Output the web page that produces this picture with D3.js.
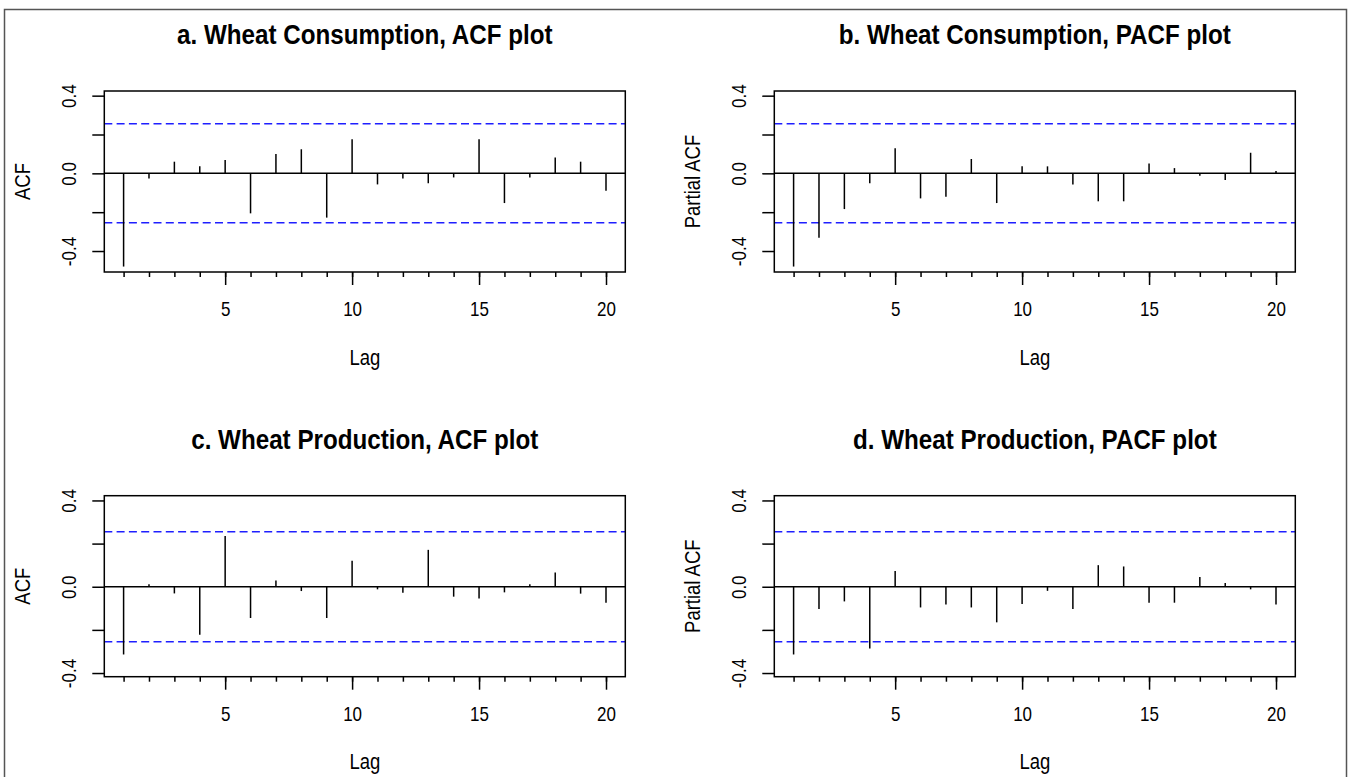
<!DOCTYPE html>
<html><head><meta charset="utf-8">
<script src="https://cdn.jsdelivr.net/npm/d3@7"></script>
<style>
body{margin:0;background:#fff;}
svg{display:block;}
text{font-family:"Liberation Sans",Arial,Helvetica,sans-serif;fill:#000;}
</style>
</head><body>
<svg id="chart" width="1351" height="777"></svg>
<script>
// ---- data ----
const lags = [1,2,3,4,5,6,7,8,9,10,11,12,13,14,15,16,17,18,19,20];
const consumptionACF  = [-0.480,-0.026,0.060,0.036,0.069,-0.206,0.100,0.124,-0.228,0.175,-0.057,-0.027,-0.051,-0.021,0.175,-0.153,-0.021,0.082,0.060,-0.089];
const consumptionPACF = [-0.480,-0.331,-0.184,-0.051,0.129,-0.129,-0.120,0.074,-0.153,0.036,0.036,-0.057,-0.144,-0.144,0.051,0.027,-0.012,-0.034,0.106,0.012];
const productionACF   = [-0.314,0.011,-0.031,-0.222,0.235,-0.145,0.029,-0.020,-0.145,0.120,-0.012,-0.028,0.171,-0.046,-0.054,-0.026,0.011,0.066,-0.032,-0.074];
const productionPACF  = [-0.314,-0.103,-0.068,-0.286,0.073,-0.096,-0.082,-0.096,-0.165,-0.080,-0.019,-0.103,0.100,0.094,-0.074,-0.074,0.045,0.017,-0.012,-0.082];
const confidenceBound = 0.255;
const panelTitles = ["a. Wheat Consumption, ACF plot","b. Wheat Consumption, PACF plot","c. Wheat Production, ACF plot","d. Wheat Production, PACF plot"];
const yAxisLabels = ["ACF","Partial ACF","ACF","Partial ACF"];
const xAxisLabel = "Lag";
const xTickValues = [5,10,15,20];
const yTickValues = [-0.4,-0.2,0.0,0.2,0.4];
const yTickLabels = ["-0.4","","0.0","","0.4"];

// ---- layout ----
const svg = d3.select("#chart");
svg.append("rect").attr("x",4.5).attr("y",9.5).attr("width",1342).attr("height",800)
  .attr("fill","none").attr("stroke","#555").attr("stroke-width",1.5);

const boxW = 521, boxH = 181;
const stretch = 1.2;   // glyphs in the reference are taller than they are wide
const panels = [
  {values: consumptionACF,  left:104.3, top:91,    ydom:[-0.508,0.424]},
  {values: consumptionPACF, left:774.3, top:91,    ydom:[-0.508,0.424]},
  {values: productionACF,   left:104.3, top:495.7, ydom:[-0.417,0.422]},
  {values: productionPACF,  left:774.3, top:495.7, ydom:[-0.417,0.422]}
];

panels.forEach((p,i)=>{
  const g = svg.append("g").attr("transform",`translate(${p.left},${p.top})`);
  const x = d3.scaleLinear().domain([0.24,20.76]).range([0,boxW]);
  const y = d3.scaleLinear().domain(p.ydom).range([boxH,0]);

  // confidence bounds
  [confidenceBound,-confidenceBound].forEach(c=>{
    g.append("line").attr("x1",0).attr("x2",boxW).attr("y1",y(c)).attr("y2",y(c))
      .attr("stroke","#1f1fff").attr("stroke-width",1.5).attr("stroke-dasharray","8,4.3");
  });
  // zero line
  g.append("line").attr("x1",0).attr("x2",boxW).attr("y1",y(0)).attr("y2",y(0))
    .attr("stroke","#000").attr("stroke-width",1.5);
  // spikes
  g.selectAll("line.spike").data(p.values).enter().append("line").attr("class","spike")
    .attr("x1",(d,k)=>x(lags[k])).attr("x2",(d,k)=>x(lags[k]))
    .attr("y1",y(0)).attr("y2",d=>y(d))
    .attr("stroke","#000").attr("stroke-width",1.5);

  // x axis: minor ticks every lag, major ticks labelled
  const xMinor = d3.axisBottom(x).tickValues(lags).tickSize(5).tickFormat("");
  g.append("g").attr("transform",`translate(0,${boxH})`).call(xMinor)
    .call(a=>a.select(".domain").remove())
    .call(a=>a.selectAll("line").attr("stroke","#000").attr("stroke-width",1.5));
  const xMajor = d3.axisBottom(x).tickValues(xTickValues).tickSize(13).tickFormat(d3.format("d"));
  const xa = g.append("g").attr("transform",`translate(0,${boxH})`).call(xMajor);
  xa.select(".domain").remove();
  xa.selectAll("line").attr("stroke","#000").attr("stroke-width",1.5);
  xa.selectAll("text").attr("font-size",17).attr("font-family",null).attr("fill","#000")
    .attr("y",null).attr("dy",null).attr("dominant-baseline","central")
    .attr("transform",`translate(0,37) scale(1,${stretch})`);

  // y axis
  const yAx = d3.axisLeft(y).tickValues(yTickValues).tickSize(12).tickFormat((d,k)=>yTickLabels[k]);
  const ya = g.append("g").call(yAx);
  ya.select(".domain").remove();
  ya.selectAll("line").attr("stroke","#000").attr("stroke-width",1.5);
  ya.selectAll("text").attr("font-size",17).attr("font-family",null).attr("fill","#000")
    .attr("x",0).attr("dy",null).attr("text-anchor","middle").attr("dominant-baseline","central")
    .attr("transform",`translate(-35,0) rotate(-90) scale(1,${stretch})`);

  // box
  g.append("rect").attr("width",boxW).attr("height",boxH).attr("fill","none")
    .attr("stroke","#000").attr("stroke-width",1.5);

  // title
  g.append("text").attr("transform",`translate(${boxW/2},-56) scale(1,1.12)`).attr("text-anchor","middle")
    .attr("dominant-baseline","central").attr("font-weight","bold").attr("font-size",24.2)
    .text(panelTitles[i]);
  // x label
  g.append("text").attr("transform",`translate(${boxW/2},${boxH+85}) scale(1,${stretch})`).attr("text-anchor","middle")
    .attr("dominant-baseline","central").attr("font-size",18.5).text(xAxisLabel);
  // y label
  g.append("text").attr("transform",`translate(-82,${boxH/2}) rotate(-90) scale(1,${stretch})`)
    .attr("text-anchor","middle").attr("dominant-baseline","central").attr("font-size",18.5)
    .text(yAxisLabels[i]);
});
</script>
</body></html>
